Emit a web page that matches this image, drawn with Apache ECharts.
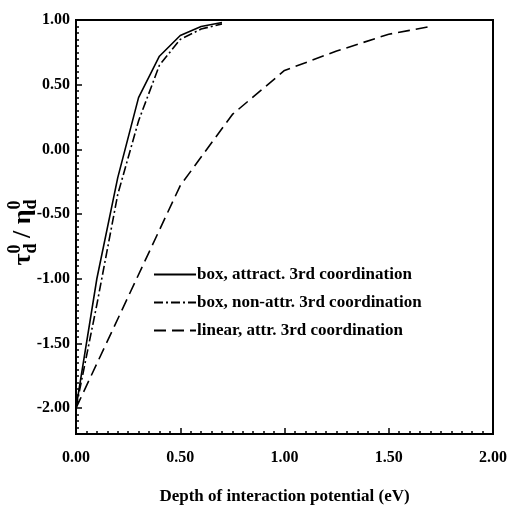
<!DOCTYPE html>
<html>
<head>
<meta charset="utf-8">
<script src="https://cdn.jsdelivr.net/npm/echarts@6/dist/echarts.min.js"></script>
<style>
  html, body { margin: 0; padding: 0; background: #fff; }
  #chart { width: 512px; height: 507px; }
</style>
</head>
<body>
<div id="chart"></div>
<script>
// depth of interaction potential (eV)
const boxAttractX = [0, 0.1, 0.2, 0.3, 0.4, 0.5, 0.6, 0.7]
const boxAttractY = [-2.0, -1.0, -0.22, 0.40, 0.72, 0.88, 0.95, 0.98]
const boxNonAttrX = [0, 0.1, 0.2, 0.3, 0.4, 0.5, 0.6, 0.7]
const boxNonAttrY = [-2.0, -1.2, -0.35, 0.22, 0.65, 0.85, 0.93, 0.97]
const linearAttrX = [0, 0.5, 0.75, 1.0, 1.25, 1.5, 1.6, 1.7]
const linearAttrY = [-2.0, -0.28, 0.27, 0.61, 0.76, 0.89, 0.92, 0.95]

const seriesNames = [
  'box, attract. 3rd coordination',
  'box, non-attr. 3rd coordination',
  'linear, attr. 3rd coordination'
]
const yLabelValues = [-2.0, -1.5, -1.0, -0.5, 0.0, 0.5, 1.0]

const font = 'Liberation Serif'

// minor ticks every 0.05 on y
const yMinorValues = []
for (let i = -44; i <= 20; i++) yMinorValues.push(+(i * 0.05).toFixed(2))

const pairs = (xs, ys) => xs.map((x, i) => [x, ys[i]])

const chart = echarts.init(document.getElementById('chart'))

const option = {
  backgroundColor: '#fff',
  animation: false,
  grid: {
    left: 76, right: 19, top: 20, bottom: 73,
    containLabel: false,
    outerBoundsMode: 'none',
    show: true,
    borderColor: '#000',
    borderWidth: 2
  },
  legend: {
    orient: 'vertical',
    left: 148,
    top: 261,
    itemWidth: 42,
    itemHeight: 10,
    itemGap: 11,
    itemStyle: { opacity: 0 },
    textStyle: { fontFamily: font, fontWeight: 'bold', fontSize: 17, color: '#000', padding: [0, 0, 0, -4] },
    data: seriesNames
  },
  xAxis: {
    type: 'value',
    min: 0,
    max: 2,
    interval: 0.5,
    name: 'Depth of interaction potential (eV)',
    nameLocation: 'middle',
    nameGap: 54,
    nameMoveOverlap: false,
    nameTextStyle: { fontFamily: font, fontWeight: 'bold', fontSize: 17, color: '#000' },
    axisLine: { onZero: false, lineStyle: { color: '#000', width: 2 } },
    axisTick: { inside: true, length: 6, lineStyle: { color: '#000', width: 1.5 } },
    minorTick: { show: true, splitNumber: 10, length: 3, lineStyle: { color: '#000', width: 1.5 } },
    splitLine: { show: false },
    axisLabel: {
      margin: 16,
      fontFamily: font, fontWeight: 'bold', fontSize: 16, color: '#000',
      formatter: v => v.toFixed(2)
    }
  },
  yAxis: [{
    type: 'value',
    min: -2.2,
    max: 1,
    name: '{t|τ}{s|d}{p|0}{t| / η}{s|d}{p|0}',
    nameLocation: 'middle',
    nameGap: 36,
    nameMoveOverlap: false,
    nameTextStyle: {
      fontFamily: font, fontWeight: 'bold', fontSize: 24, color: '#000',
      padding: [0, 12, 0, 0],
      rich: {
        t: { fontFamily: font, fontWeight: 'bold', fontSize: 26, color: '#000', lineHeight: 34, verticalAlign: 'middle' },
        s: { fontFamily: font, fontWeight: 'bold', fontSize: 18, color: '#000', lineHeight: 34, verticalAlign: 'bottom' },
        p: { fontFamily: font, fontWeight: 'bold', fontSize: 18, color: '#000', lineHeight: 34, verticalAlign: 'top', padding: [0, 0, 0, -10] }
      }
    },
    axisLine: { onZero: false, lineStyle: { color: '#000', width: 2 } },
    axisTick: { inside: true, length: 6, customValues: yLabelValues, lineStyle: { color: '#000', width: 1.5 } },
    splitLine: { show: false },
    axisLabel: {
      margin: 6,
      customValues: yLabelValues,
      fontFamily: font, fontWeight: 'bold', fontSize: 16, color: '#000',
      formatter: v => v.toFixed(2)
    }
  }, {
    type: 'value',
    position: 'left',
    min: -2.2,
    max: 1,
    axisLine: { show: false },
    axisTick: { inside: true, length: 3, customValues: yMinorValues, lineStyle: { color: '#000', width: 1.5 } },
    axisLabel: { show: false },
    splitLine: { show: false }
  }],
  series: [{
    name: seriesNames[0],
    type: 'line',
    symbol: 'none',
    itemStyle: { color: '#000' },
    data: pairs(boxAttractX, boxAttractY),
    lineStyle: { color: '#000', width: 1.6, type: 'solid' }
  }, {
    name: seriesNames[1],
    type: 'line',
    symbol: 'none',
    itemStyle: { color: '#000' },
    data: pairs(boxNonAttrX, boxNonAttrY),
    lineStyle: { color: '#000', width: 1.6, type: [9, 3, 2, 3] }
  }, {
    name: seriesNames[2],
    type: 'line',
    symbol: 'none',
    itemStyle: { color: '#000' },
    data: pairs(linearAttrX, linearAttrY),
    lineStyle: { color: '#000', width: 1.6, type: [12, 6] }
  }]
}

chart.setOption(option)
</script>
</body>
</html>
